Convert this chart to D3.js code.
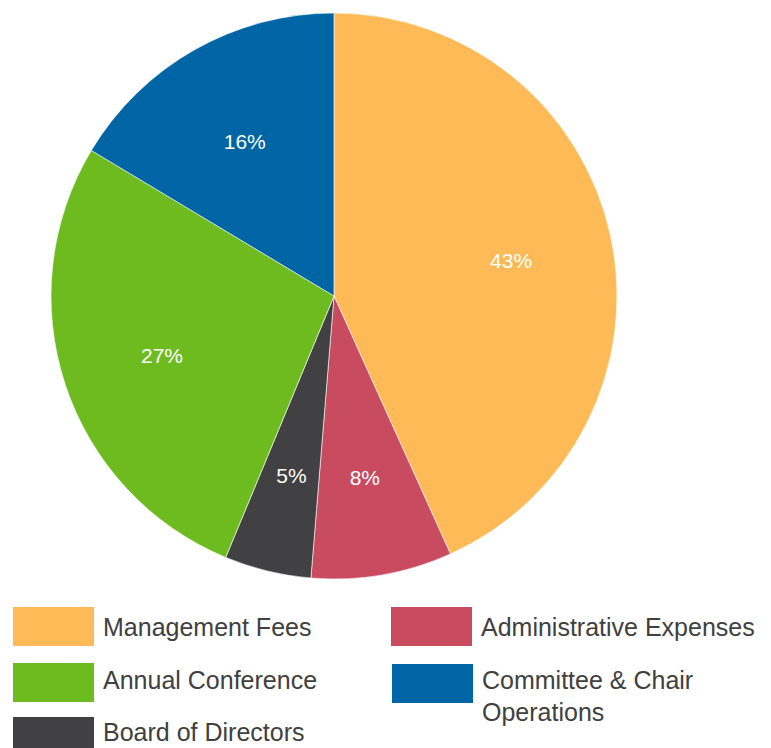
<!DOCTYPE html>
<style>
body { margin: 0; background-color: #FFFFFF; }
text { font-family: "Liberation Sans", Arial, sans-serif; }
</style>
<svg width="771" height="748"></svg>
<script src="https://d3js.org/d3.v7.min.js"></script>
<script>

var categories = ["Management Fees", "Administrative Expenses", "Board of Directors", "Annual Conference", "Committee & Chair Operations"];
var values = [43.25, 8.05, 4.95, 27.35, 16.4];
var colors = ["#FDBA56", "#C84B5F", "#414042", "#6EBB1F", "#0065A4"];

var svg = d3.select("svg"),
    cx = 334, cy = 296, radius = 283;

var data = categories.map(function(c, i) { return {name: c, value: values[i]}; });

var color = d3.scaleOrdinal().domain(categories).range(colors);

var pie = d3.pie().sort(null).value(function(d) { return d.value; });
var arc = d3.arc().innerRadius(0).outerRadius(radius);
var labelArc = d3.arc().innerRadius(radius * 0.64).outerRadius(radius * 0.64);

var g = svg.append("g").attr("transform", "translate(" + cx + "," + cy + ")");

var total = d3.sum(values);

var slices = g.selectAll("g.slice")
  .data(pie(data))
  .enter().append("g")
    .attr("class", "slice");

slices.append("path")
    .attr("d", arc)
    .attr("fill", function(d) { return color(d.data.name); })
    .attr("stroke", "#fff")
    .attr("stroke-width", 0.6);

slices.append("text")
    .attr("transform", function(d) {
      var c = labelArc.centroid(d);
      return "translate(" + c[0] + "," + (c[1] + 3) + ")";
    })
    .attr("text-anchor", "middle")
    .attr("dy", "0.36em")
    .attr("fill", "#fff")
    .attr("font-size", 21)
    .text(function(d) { return Math.round(d.data.value / total * 100) + "%"; });

// legend, two columns
var legendPos = [[13, 607], [391, 607], [13, 663], [392, 664], [13, 717]];
var legendTextY = [20, 20, 17, 16, 15];
var legendOrder = [0, 1, 3, 4, 2];

var legend = svg.append("g")
  .selectAll("g")
  .data(legendOrder)
  .enter().append("g")
    .attr("transform", function(d, i) { return "translate(" + legendPos[i][0] + "," + legendPos[i][1] + ")"; });

legend.append("rect")
    .attr("width", 81)
    .attr("height", 39)
    .attr("fill", function(d) { return colors[d]; });

legend.append("text")
    .attr("x", 90)
    .attr("y", function(d, i) { return legendTextY[i]; })
    .attr("dy", "0.35em")
    .attr("fill", "#404040")
    .attr("font-size", 25)
    .each(function(d) {
      var name = categories[d];
      var t = d3.select(this);
      if (name === "Committee & Chair Operations") {
        t.append("tspan").attr("x", 90).text("Committee & Chair");
        t.append("tspan").attr("x", 90).attr("dy", 32).text("Operations");
      } else {
        t.text(name);
      }
    });

</script>
